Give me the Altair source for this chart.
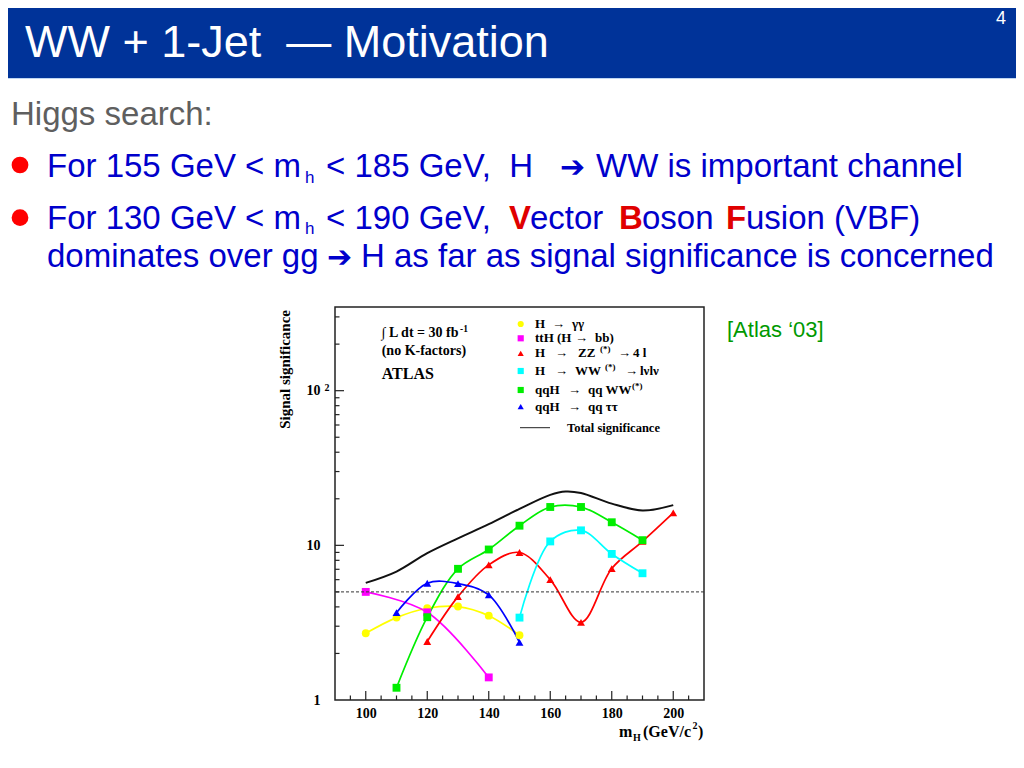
import altair as alt
import pandas as pd

# ---------------- data ----------------
names = ["H → γγ", "ttH (H → bb)", "H → ZZ(*) → 4l", "H → WW(*) → lνlν",
         "qqH → qq WW(*)", "qqH → qq ττ"]
colors = ["#FFFF00", "#FF00FF", "#FF0000", "#00FFFF", "#00EE00", "#0000FF"]
shapes = ["circle", "square", "triangle-up", "square", "square", "triangle-up"]

mh_gg = [100, 110, 120, 130, 140, 150]
sig_gg = [2.70, 3.41, 3.92, 4.02, 3.51, 2.62]
mh_tth = [100, 120, 140]
sig_tth = [5.0, 3.69, 1.40]
mh_zz = [120, 130, 140, 150, 160, 170, 180, 190, 200]
sig_zz = [2.39, 4.66, 7.48, 8.99, 6.0, 3.18, 7.08, 10.6, 16.2]
mh_ww = [150, 160, 170, 180, 190]
sig_ww = [3.41, 10.6, 12.5, 8.8, 6.6]
mh_qqww = [110, 120, 130, 140, 150, 160, 170, 180, 190]
sig_qqww = [1.20, 3.43, 7.05, 9.4, 13.4, 17.7, 17.7, 14.1, 10.8]
mh_qqtt = [110, 120, 130, 140, 150]
sig_qqtt = [3.67, 5.69, 5.66, 4.78, 2.36]
mh_total = [100, 110, 120, 130, 140, 150, 160, 165, 170, 180, 190, 200]
sig_total = [5.72, 6.77, 8.9, 11.1, 13.7, 17.2, 21.2, 22.3, 21.8, 18.6, 16.8, 18.2]

discovery_level = [5]
x_major = [100, 120, 140, 160, 180, 200]
x_minor = [95, 105, 110, 115, 125, 130, 135, 145, 150, 155, 165, 170, 175,
           185, 190, 195, 205]
y_labels = [1, 10, 100]
y_major = [10, 100]
y_minor = [2, 3, 4, 5, 6, 7, 8, 9, 20, 30, 40, 50, 60, 70, 80, 90, 200, 300]

series_x = [mh_gg, mh_tth, mh_zz, mh_ww, mh_qqww, mh_qqtt]
series_y = [sig_gg, sig_tth, sig_zz, sig_ww, sig_qqww, sig_qqtt]

rows = []
for n, xs, ys in zip(names, series_x, series_y):
    for a, b in zip(xs, ys):
        rows.append({"series": n, "mH": a, "sig": b})
df = pd.DataFrame(rows)
df_total = pd.DataFrame({"mH": mh_total, "sig": sig_total})
one = pd.DataFrame({"k": [0]})

# ---------------- layout helpers ----------------
W, H = 369, 393
OX, OY = 335, 307  # page position of the plot's top-left corner

SANS = "Liberation Sans, Arial, Helvetica, sans-serif"
SERIF = "Liberation Serif, Times New Roman, DejaVu Serif, serif"
ARROWF = "DejaVu Sans, Liberation Sans, sans-serif"
BLUE = "#0000CC"
BS = 33  # body font size

xscale = alt.Scale(domain=[90, 210], nice=False, zero=False)
yscale = alt.Scale(type="log", domain=[1, 347.6], nice=False)

x_axis = alt.Axis(values=x_major, title=None, grid=False, ticks=False, domain=False,
                  labelFont=SERIF, labelFontWeight="bold", labelFontSize=14,
                  labelColor="black", labelPadding=6, labelFlush=False)
y_axis = alt.Axis(values=y_labels, title=None, grid=False, ticks=False,
                  domain=False, labelFont=SERIF, labelFontWeight="bold",
                  labelFontSize=14, labelColor="black", labelPadding=15,
                  labelFlush=False,
                  labelExpr="datum.value >= 100 ? '10' : datum.value >= 10 ? '10' : '1'")


def X(field):
    return alt.X(field, scale=xscale, axis=x_axis)


def Y(field):
    return alt.Y(field, scale=yscale, axis=y_axis)


def txt(s, xp, yp, size, color="black", font=SANS, weight="normal",
        align="left", baseline="alphabetic", angle=None):
    kw = dict(text=s, font=font, fontSize=size, fontWeight=weight,
              color=color, align=align, baseline=baseline)
    if angle is not None:
        kw["angle"] = angle
    return alt.Chart(one).mark_text(**kw).encode(
        x=alt.value(xp - OX), y=alt.value(yp - OY))


layers = []

# ---------------- the ATLAS plot (first, so that it owns the axes) ----------------
color_enc = alt.Color("series:N", scale=alt.Scale(domain=names, range=colors), legend=None)
shape_enc = alt.Shape("series:N", scale=alt.Scale(domain=names, range=shapes), legend=None)

layers.append(alt.Chart(df).mark_line(interpolate="catmull-rom", strokeWidth=1.7).encode(
    x=X("mH:Q"), y=Y("sig:Q"), color=color_enc))
layers.append(alt.Chart(df).mark_point(filled=True, opacity=1, size=62).encode(
    x=X("mH:Q"), y=Y("sig:Q"), color=color_enc, shape=shape_enc))
layers.append(alt.Chart(df_total).mark_line(interpolate="catmull-rom", strokeWidth=2,
                                            color="#111").encode(
    x=X("mH:Q"), y=Y("sig:Q")))

# dashed 5-sigma line
layers.append(alt.Chart(pd.DataFrame({"sig": discovery_level})).mark_rule(
    color="#333", strokeWidth=1, strokeDash=[3, 2]).encode(y=Y("sig:Q")))

# inward ticks
layers.append(alt.Chart(pd.DataFrame({"mH": x_major})).mark_rule(color="#222", strokeWidth=1.2).encode(
    x=X("mH:Q"), y=alt.value(H), y2=alt.value(H - 9)))
layers.append(alt.Chart(pd.DataFrame({"mH": x_minor})).mark_rule(color="#222", strokeWidth=1.2).encode(
    x=X("mH:Q"), y=alt.value(H), y2=alt.value(H - 4.5)))
layers.append(alt.Chart(pd.DataFrame({"sig": y_major})).mark_rule(color="#222", strokeWidth=1.2).encode(
    y=Y("sig:Q"), x=alt.value(0), x2=alt.value(9)))
layers.append(alt.Chart(pd.DataFrame({"sig": y_minor})).mark_rule(color="#222", strokeWidth=1.2).encode(
    y=Y("sig:Q"), x=alt.value(0), x2=alt.value(4.5)))

# superscript of the 10^2 label
layers.append(alt.Chart(pd.DataFrame({"sig": [100]})).mark_text(
    text="2", font=SERIF, fontWeight="bold", fontSize=10, align="left",
    baseline="alphabetic", color="black").encode(y=Y("sig:Q"), x=alt.value(-10.5)))

# ---------------- slide header ----------------
layers.append(alt.Chart(one).mark_rect(color="#003399").encode(
    x=alt.value(-OX - 10), x2=alt.value(1030 - OX),
    y=alt.value(-OY - 10), y2=alt.value(78 - OY)))
layers.append(alt.Chart(one).mark_rule(color="#BFD6F2", strokeWidth=1.2).encode(
    x=alt.value(-OX - 10), x2=alt.value(1030 - OX), y=alt.value(78.5 - OY)))
layers.append(txt("WW + 1-Jet\u00a0\u00a0— Motivation", 25, 57, 45, color="white"))
layers.append(txt("4", 1001, 24, 18, color="white", align="center"))

# ---------------- slide body ----------------
layers.append(txt("Higgs search:", 11, 125, BS, color="#5F5F5F"))
for by in [165, 217.7]:
    layers.append(alt.Chart(one).mark_point(shape="circle", filled=True, opacity=1,
                                            color="#FF0000", size=280).encode(
        x=alt.value(20 - OX), y=alt.value(by - OY)))

layers += [
    txt("For 155 GeV < m", 47, 177, BS, BLUE),
    txt("h", 305, 182.5, 17, BLUE),
    txt("< 185 GeV,\u00a0\u00a0H", 326, 177, BS, BLUE),
    txt("➔", 560, 177, 30, BLUE, font=ARROWF),
    txt("WW is important channel", 596, 177, BS, BLUE),

    txt("For 130 GeV < m", 47, 229, BS, BLUE),
    txt("h", 305, 233.5, 17, BLUE),
    txt("< 190 GeV,", 326, 229, BS, BLUE),
    txt("V", 509, 229, BS, "#E00000", weight="bold"),
    txt("ector", 530, 229, BS, BLUE),
    txt("B", 619, 229, BS, "#E00000", weight="bold"),
    txt("oson", 642, 229, BS, BLUE),
    txt("F", 726, 229, BS, "#E00000", weight="bold"),
    txt("usion (VBF)", 746, 229, BS, BLUE),

    txt("dominates over gg", 47, 267, BS, BLUE),
    txt("➔", 327, 267, 30, BLUE, font=ARROWF),
    txt("H as far as signal significance is concerned", 361, 267, BS, BLUE),

    txt("[Atlas ‘03]", 727, 337, 22, "#009900"),
]

# ---------------- axis titles ----------------
layers.append(txt("Signal significance", 284.5, 310, 15, font=SERIF, weight="bold",
                  align="right", baseline="middle", angle=270))
layers += [
    txt("m", 619, 737, 16, font=SERIF, weight="bold"),
    txt("H", 633, 741, 10, font=SERIF, weight="bold"),
    txt("(GeV/c", 643, 737, 16, font=SERIF, weight="bold"),
    txt("2", 692.5, 729, 10, font=SERIF, weight="bold"),
    txt(")", 698, 737, 16, font=SERIF, weight="bold"),
]

# ---------------- in-plot annotations ----------------
layers += [
    txt("∫ L dt = 30 fb", 381.7, 337.3, 14, font=SERIF, weight="bold"),
    txt("-1", 460, 332, 9.5, font=SERIF, weight="bold"),
    txt("(no K-factors)", 381.7, 355, 14, font=SERIF, weight="bold"),
    txt("ATLAS", 381.7, 379.3, 16, font=SERIF, weight="bold"),
]

# legend (ROOT style)
legend_rows = [
    (324.0, [("H", 535), ("→", 552), ("γγ", 572)]),
    (338.3, [("ttH (H", 535), ("→", 575), ("bb)", 595)]),
    (353.3, [("H", 535), ("→", 555), ("ZZ", 578), ("^(*)", 600), ("→", 618), ("4 l", 633)]),
    (371.0, [("H", 535), ("→", 555), ("WW", 575), ("^(*)", 605), ("→", 625), ("lνlν", 640)]),
    (390.0, [("qqH", 535), ("→", 568), ("qq WW", 588), ("^(*)", 632)]),
    (406.7, [("qqH", 535), ("→", 568), ("qq ττ", 588)]),
]
for (cy, segs), col, shp in zip(legend_rows, colors, shapes):
    layers.append(alt.Chart(one).mark_point(shape=shp, filled=True, opacity=1,
                                            color=col, size=38).encode(
        x=alt.value(520.7 - OX), y=alt.value(cy - OY)))
    for s, xp in segs:
        if s.startswith("^"):
            layers.append(txt(s[1:], xp, cy - 4, 9, font=SERIF, weight="bold",
                              baseline="middle"))
        else:
            layers.append(txt(s, xp, cy, 13, font=SERIF, weight="bold",
                              baseline="middle"))
layers.append(alt.Chart(one).mark_rule(color="#222", strokeWidth=1).encode(
    x=alt.value(520 - OX), x2=alt.value(550 - OX), y=alt.value(427.7 - OY)))
layers.append(txt("Total significance", 567, 427.7, 12.5, font=SERIF, weight="bold",
                  baseline="middle"))

chart = alt.layer(*layers).properties(
    width=W, height=H,
    autosize=alt.AutoSizeParams(type="none"),
    padding={"left": OX - 8, "top": OY - 8, "right": 1008 - (OX - 8) - W,
             "bottom": 752 - (OY - 8) - H},
    background="white",
).configure_view(stroke="#222", strokeWidth=1.5)

chart.save("out.html", embed_options={"renderer": "svg", "actions": False})
